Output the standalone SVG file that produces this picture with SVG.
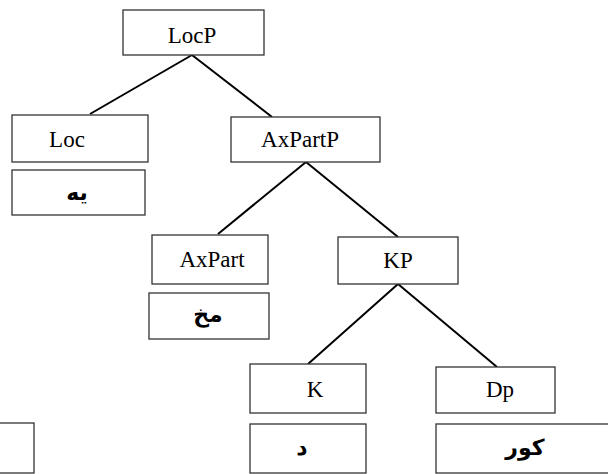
<svg xmlns="http://www.w3.org/2000/svg" width="608" height="474" viewBox="0 0 608 474">
<style>
.box{fill:#fff;stroke:#333;stroke-width:1.3}
.lbl{font-family:"Liberation Serif","Times New Roman",serif;font-size:23px;fill:#000;text-anchor:middle}
.ar{font-family:"DejaVu Sans",sans-serif;font-size:22px;font-weight:bold;fill:#000;text-anchor:middle}
.edge{stroke:#000;stroke-width:2;fill:none}
</style>
<rect width="608" height="474" fill="#fff"/>
<g id="connectors">
<line class="edge" x1="192" y1="55" x2="90" y2="114"/>
<line class="edge" x1="192" y1="55" x2="272" y2="117"/>
<line class="edge" x1="306" y1="162" x2="218" y2="234"/>
<line class="edge" x1="306" y1="162" x2="398" y2="237"/>
<line class="edge" x1="398" y1="284" x2="308" y2="364"/>
<line class="edge" x1="398" y1="284" x2="497" y2="367"/>
</g>
<g id="LocP"><rect class="box" x="123" y="10" width="141" height="45"/><text class="lbl" x="192" y="43">LocP</text></g>
<g id="Loc"><rect class="box" x="12" y="115" width="136" height="47"/><text class="lbl" x="67" y="147">Loc</text></g>
<g id="ye"><rect class="box" x="12" y="170" width="133" height="45"/><text class="ar" x="77" y="200" direction="rtl">يه</text></g>
<g id="AxPartP"><rect class="box" x="231" y="117" width="149" height="45"/><text class="lbl" x="300" y="147">AxPartP</text></g>
<g id="AxPart"><rect class="box" x="152" y="235" width="116" height="49"/><text class="lbl" x="212" y="267">AxPart</text></g>
<g id="mox"><rect class="box" x="149" y="293" width="120" height="46"/><text class="ar" x="208" y="322" direction="rtl">مخ</text></g>
<g id="KP"><rect class="box" x="338" y="237" width="120" height="47"/><text class="lbl" x="398" y="268">KP</text></g>
<g id="K"><rect class="box" x="250" y="364" width="116" height="49"/><text class="lbl" x="315" y="397">K</text></g>
<g id="Dp"><rect class="box" x="436" y="367" width="119" height="46"/><text class="lbl" x="500" y="397">Dp</text></g>
<g id="d"><rect class="box" x="250" y="424" width="116" height="49"/><text class="ar" x="302" y="455" direction="rtl">د</text></g>
<g id="kur"><rect class="box" x="436" y="424" width="190" height="49"/><text class="ar" x="525" y="455" direction="rtl">كور</text></g>
<g id="empty"><rect class="box" x="-10" y="423" width="44" height="50"/></g>
</svg>
